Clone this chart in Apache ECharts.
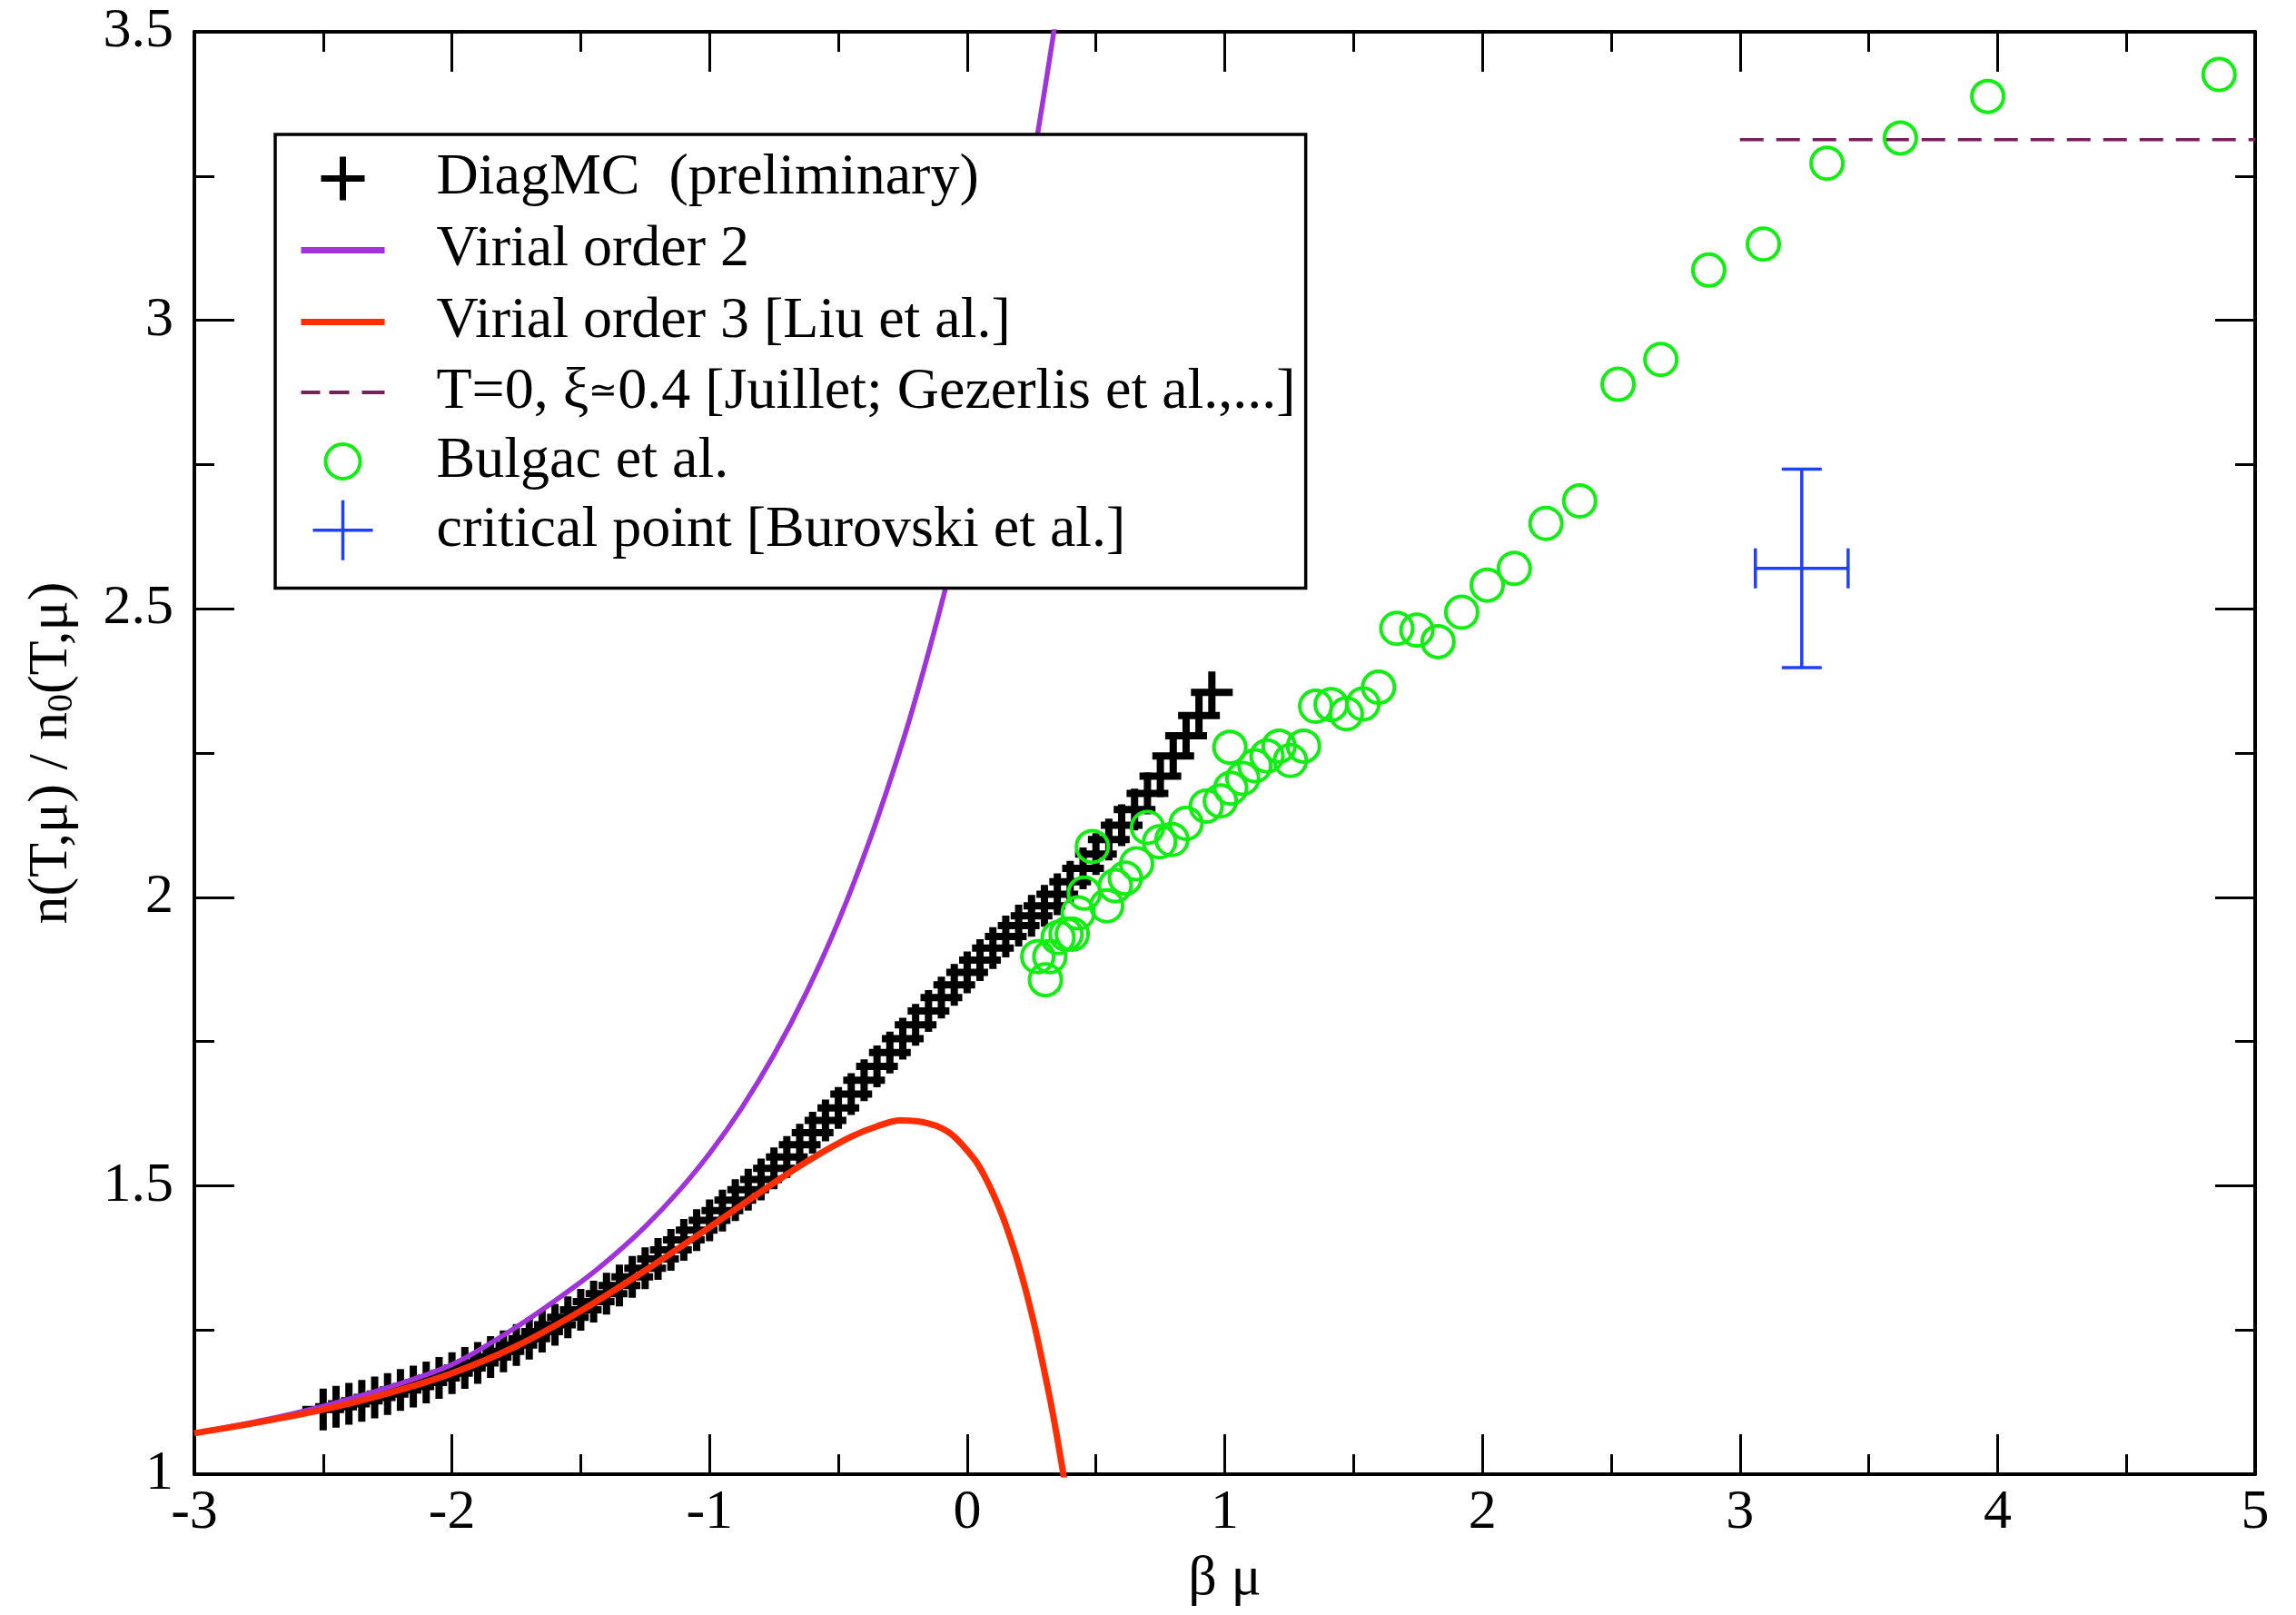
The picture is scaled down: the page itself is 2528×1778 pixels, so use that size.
<!DOCTYPE html>
<html>
<head>
<meta charset="utf-8">
<script src="https://cdn.jsdelivr.net/npm/echarts@6/dist/echarts.min.js"></script>
<style>
html, body { margin: 0; padding: 0; background: #fff; }
#chart { width: 2528px; height: 1778px; }
</style>
</head>
<body>
<div id="chart"></div>
<script>
// DiagMC density ratio (preliminary)
const diagmcBetaMu = [
  -2.50, -2.45, -2.40, -2.35, -2.30, -2.25, -2.20, -2.15, -2.10, -2.05,
  -2.00, -1.95, -1.90, -1.85, -1.80, -1.75, -1.70, -1.65, -1.60, -1.55,
  -1.50, -1.45, -1.40, -1.35, -1.30, -1.25, -1.20, -1.15, -1.10, -1.05,
  -1.00, -0.95, -0.90, -0.85, -0.80, -0.75, -0.70, -0.65, -0.60, -0.55,
  -0.50, -0.45, -0.40, -0.35, -0.30, -0.25, -0.20, -0.15, -0.10, -0.05,
   0.00,  0.05,  0.10,  0.15,  0.20,  0.25,  0.30,  0.35,  0.40,  0.45,
   0.50,  0.55,  0.60,  0.65,  0.70,  0.75,  0.80,  0.85,  0.90,  0.95
];
const diagmcDensity = [
  1.112, 1.117, 1.122, 1.127, 1.133, 1.139, 1.146, 1.152, 1.159, 1.167,
  1.175, 1.184, 1.193, 1.203, 1.213, 1.224, 1.235, 1.247, 1.259, 1.272,
  1.285, 1.299, 1.313, 1.327, 1.342, 1.357, 1.373, 1.389, 1.406, 1.423,
  1.440, 1.457, 1.475, 1.493, 1.511, 1.530, 1.550, 1.571, 1.592, 1.613,
  1.635, 1.659, 1.683, 1.707, 1.731, 1.755, 1.779, 1.803, 1.826, 1.848,
  1.870, 1.891, 1.912, 1.932, 1.951, 1.968, 1.985, 2.005, 2.027, 2.050,
  2.075, 2.100, 2.125, 2.152, 2.180, 2.210, 2.245, 2.280, 2.315, 2.355
];

// Second-order virial expansion
const virial2BetaMu  = [-3.0, -2.75, -2.5, -2.25, -2.0, -1.75, -1.5, -1.375, -1.25, -1.125, -1.0, -0.875, -0.75, -0.625, -0.5, -0.375, -0.25, -0.168, -0.083, 0.0, 0.1, 0.2, 0.267, 0.337, 0.37];
const virial2Density = [1.071, 1.092, 1.118, 1.150, 1.190, 1.255, 1.333, 1.378, 1.429, 1.488, 1.556, 1.635, 1.727, 1.834, 1.958, 2.103, 2.270, 2.395, 2.537, 2.691, 2.899, 3.132, 3.305, 3.501, 3.600];

// Third-order virial expansion
const virial3BetaMu  = [-3.0, -2.75, -2.5, -2.25, -2.0, -1.75, -1.5, -1.25, -1.0, -0.75, -0.6, -0.45, -0.35, -0.26, -0.2, -0.15, -0.1, -0.05, 0.026, 0.06, 0.1, 0.125, 0.15, 0.19, 0.224, 0.25, 0.273, 0.3, 0.322, 0.34, 0.36, 0.38];
const virial3Density = [1.071, 1.090, 1.112, 1.140, 1.175, 1.222, 1.283, 1.353, 1.428, 1.505, 1.548, 1.585, 1.603, 1.613, 1.612, 1.608, 1.600, 1.585, 1.547, 1.523, 1.487, 1.461, 1.432, 1.378, 1.325, 1.279, 1.235, 1.178, 1.130, 1.087, 1.036, 0.983];

// Ground-state value, xi ~ 0.4
const groundStateBetaMu  = [3.0, 5.0];
const groundStateDensity = [3.313, 3.313];

// Bulgac et al.
const bulgacBetaMu = [
  0.274, 0.304, 0.321, 0.353, 0.384, 0.408, 0.431, 0.455, 0.486, 0.542,
  0.575, 0.614, 0.658, 0.700, 0.747, 0.795, 0.850, 0.928, 0.983, 1.020,
  1.023, 1.070, 1.117, 1.164, 1.211, 1.255, 1.306, 1.353, 1.413, 1.472,
  1.537, 1.597, 1.668, 1.746, 1.828, 1.920, 2.019, 2.124, 2.247, 2.378,
  2.527, 2.693, 2.879, 3.091, 3.338, 3.623, 3.962, 4.860
];
const bulgacDensity = [
  1.897, 1.857, 1.897, 1.930, 1.936, 1.936, 1.973, 2.007, 2.088, 1.985,
  2.020, 2.033, 2.058, 2.121, 2.096, 2.100, 2.128, 2.158, 2.167, 2.260,
  2.189, 2.206, 2.228, 2.245, 2.262, 2.237, 2.262, 2.331, 2.334, 2.318,
  2.335, 2.364, 2.466, 2.463, 2.443, 2.494, 2.541, 2.570, 2.648, 2.687,
  2.889, 2.932, 3.087, 3.132, 3.272, 3.316, 3.388, 3.426
];

// Critical point (Burovski et al.) with its uncertainties
const criticalBetaMu = [3.24];
const criticalDensity = [2.57];
const criticalBetaMuErr = [0.18];
const criticalDensityErr = [0.172];

const FONT = 'Liberation Serif';
const PURPLE = '#a033dc';
const RED = '#ff2d00';
const PLUM = '#7a1f5c';
const GREEN = '#11ee11';
const BLUE = '#2040ff';

const zip = (xs, ys) => xs.map((x, i) => [x, ys[i]]);

// Legend icons: drawn inside a 144 x 66 box, the corner stubs pin the box size.
const BOX = 'M0,0L0,0M144,66L144,66';
const iconPlus = 'path://' + BOX + 'M22,33L70,33M46,9L46,57';
const iconLine = 'path://' + BOX + 'M0,33L92,33';
const iconDash = 'path://' + BOX + 'M0,33L21,33M31,33L53,33M67,33L92,33';
const iconCircle = 'path://' + BOX + 'M27,33A19,19 0 1 1 65,33A19,19 0 1 1 27,33';
const iconCross = 'path://' + BOX + 'M13,33L79,33M46,0L46,66';

const tickCommon = {
  axisLine: { show: true, onZero: false, lineStyle: { color: '#000', width: 4 } },
  axisTick: { show: true, inside: true, length: 44, lineStyle: { color: '#000', width: 3 } },
  minorTick: { show: true, splitNumber: 2, length: 22, lineStyle: { color: '#000', width: 3 } },
  splitLine: { show: false },
  minorSplitLine: { show: false }
};

const chart = echarts.init(document.getElementById('chart'), null, { renderer: 'canvas' });

chart.setOption({
  animation: false,
  backgroundColor: '#fff',
  grid: { left: 213, right: 45, top: 35, bottom: 155, containLabel: false },
  legend: {
    orient: 'vertical',
    left: 303,
    top: 148,
    padding: [12, 11, 29, 25],
    itemWidth: 144,
    itemHeight: 66,
    itemGap: 6,
    backgroundColor: '#fff',
    borderColor: '#000',
    borderWidth: 3.5,
    selectedMode: false,
    formatter: function (name) { return name.replace('≃', '{sm|≃}'); },
    textStyle: {
      fontFamily: FONT, fontSize: 64, lineHeight: 64, color: '#000',
      rich: { sm: { fontFamily: FONT, fontSize: 38, lineHeight: 64, color: '#000' } }
    },
    data: [
      { name: 'DiagMC  (preliminary)', icon: iconPlus, itemStyle: { color: 'rgba(0,0,0,0)', borderColor: '#000', borderWidth: 7, opacity: 1 } },
      { name: 'Virial order 2', icon: iconLine, itemStyle: { color: 'rgba(0,0,0,0)', borderColor: PURPLE, borderWidth: 7, opacity: 1 } },
      { name: 'Virial order 3 [Liu et al.]', icon: iconLine, itemStyle: { color: 'rgba(0,0,0,0)', borderColor: RED, borderWidth: 7, opacity: 1 } },
      { name: 'T=0, ξ≃0.4 [Juillet; Gezerlis et al.,...]', icon: iconDash, itemStyle: { color: 'rgba(0,0,0,0)', borderColor: PLUM, borderWidth: 4, opacity: 1 } },
      { name: 'Bulgac et al.', icon: iconCircle, itemStyle: { color: 'rgba(0,0,0,0)', borderColor: GREEN, borderWidth: 4, opacity: 1 } },
      { name: 'critical point [Burovski et al.]', icon: iconCross, itemStyle: { color: 'rgba(0,0,0,0)', borderColor: BLUE, borderWidth: 3.5, opacity: 1 } }
    ]
  },
  xAxis: [
    Object.assign({
      type: 'value', position: 'bottom', min: -3, max: 5, interval: 1,
      name: 'β μ', nameLocation: 'middle', nameGap: 85,
      nameTextStyle: { fontFamily: FONT, fontSize: 62, color: '#000' },
      axisLabel: { fontFamily: FONT, fontSize: 62, color: '#000', margin: 12 }
    }, tickCommon),
    Object.assign({
      type: 'value', position: 'top', min: -3, max: 5, interval: 1,
      axisLabel: { show: false }
    }, tickCommon)
  ],
  yAxis: [
    Object.assign({
      type: 'value', position: 'left', min: 1, max: 3.5, interval: 0.5,
      name: '{m|n(T,μ) / n}{s|0}{m|(T,μ)}', nameLocation: 'middle', nameGap: 126, nameRotate: 90,
      nameTextStyle: {
        fontFamily: FONT, fontSize: 62, color: '#000',
        rich: {
          m: { fontFamily: FONT, fontSize: 62, lineHeight: 62, color: '#000' },
          s: { fontFamily: FONT, fontSize: 40, lineHeight: 40, color: '#000', verticalAlign: 'bottom', padding: [40, 0, 0, 0] }
        }
      },
      axisLabel: { fontFamily: FONT, fontSize: 62, color: '#000', margin: 23 }
    }, tickCommon),
    Object.assign({
      type: 'value', position: 'right', min: 1, max: 3.5, interval: 0.5,
      axisLabel: { show: false }
    }, tickCommon)
  ],
  series: [
    {
      name: 'DiagMC  (preliminary)',
      type: 'scatter',
      data: zip(diagmcBetaMu, diagmcDensity),
      symbol: 'path://M0,24L48,24M24,0L24,48',
      symbolSize: 46,
      itemStyle: { color: 'rgba(0,0,0,0)', borderColor: '#000', borderWidth: 8, opacity: 1 },
      emphasis: { disabled: true },
      z: 2
    },
    {
      name: 'Virial order 2',
      type: 'line',
      data: zip(virial2BetaMu, virial2Density),
      showSymbol: false, symbol: 'none', smooth: 0.3, clip: true,
      lineStyle: { color: PURPLE, width: 5.5 },
      itemStyle: { color: PURPLE },
      emphasis: { disabled: true },
      z: 3
    },
    {
      name: 'Virial order 3 [Liu et al.]',
      type: 'line',
      data: zip(virial3BetaMu, virial3Density),
      showSymbol: false, symbol: 'none', smooth: 0.3, clip: true,
      lineStyle: { color: RED, width: 7 },
      itemStyle: { color: RED },
      emphasis: { disabled: true },
      z: 3
    },
    {
      name: 'T=0, ξ≃0.4 [Juillet; Gezerlis et al.,...]',
      type: 'line',
      data: zip(groundStateBetaMu, groundStateDensity),
      showSymbol: false, symbol: 'none',
      lineStyle: { color: PLUM, width: 3.5, type: [26, 14] },
      itemStyle: { color: PLUM },
      emphasis: { disabled: true },
      z: 3
    },
    {
      name: 'Bulgac et al.',
      type: 'scatter',
      data: zip(bulgacBetaMu, bulgacDensity),
      symbol: 'circle',
      symbolSize: 35,
      itemStyle: { color: 'rgba(0,0,0,0)', borderColor: GREEN, borderWidth: 4, opacity: 1 },
      emphasis: { disabled: true },
      z: 4
    },
    {
      name: 'critical point [Burovski et al.]',
      type: 'custom',
      data: criticalBetaMu.map((x, i) => [x, criticalDensity[i], criticalBetaMuErr[i], criticalDensityErr[i]]),
      encode: { x: 0, y: 1 },
      itemStyle: { color: BLUE },
      z: 4,
      renderItem: function (params, api) {
        const x = api.value(0), y = api.value(1), ex = api.value(2), ey = api.value(3);
        const l = api.coord([x - ex, y]);
        const r = api.coord([x + ex, y]);
        const t = api.coord([x, y + ey]);
        const b = api.coord([x, y - ey]);
        const cap = 22;
        const style = { stroke: BLUE, lineWidth: 3.5, fill: null };
        const seg = (x1, y1, x2, y2) => ({ type: 'line', shape: { x1, y1, x2, y2 }, style });
        return {
          type: 'group',
          children: [
            seg(l[0], l[1], r[0], r[1]),
            seg(t[0], t[1], b[0], b[1]),
            seg(l[0], l[1] - cap, l[0], l[1] + cap),
            seg(r[0], r[1] - cap, r[0], r[1] + cap),
            seg(t[0] - cap, t[1], t[0] + cap, t[1]),
            seg(b[0] - cap, b[1], b[0] + cap, b[1])
          ]
        };
      }
    }
  ]
});
</script>
</body>
</html>
